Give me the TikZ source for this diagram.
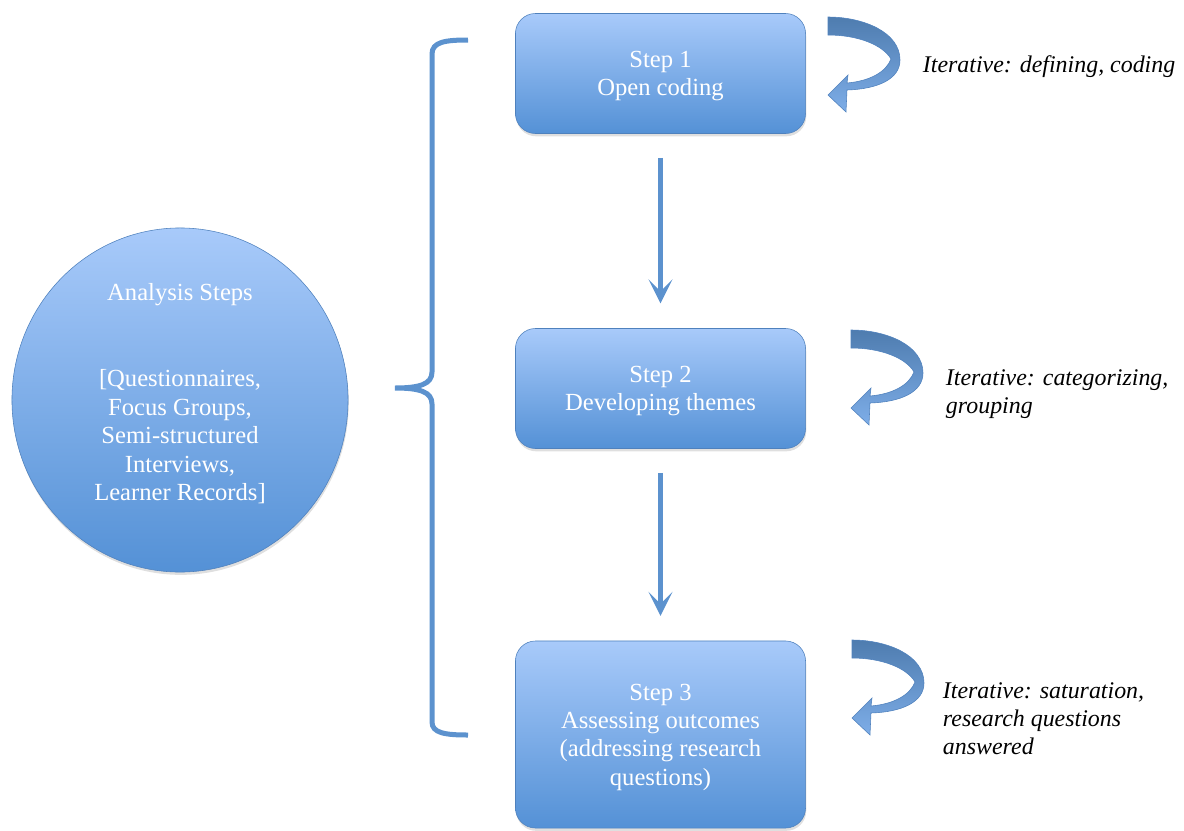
\documentclass[tikz,border=0pt]{standalone}
\usepackage{fontspec}
\setmainfont{Liberation Serif}
\usetikzlibrary{arrows.meta, shadows, shapes.geometric}

\definecolor{boxtop}{RGB}{168,202,250}
\definecolor{boxbottom}{RGB}{84,145,214}
\definecolor{boxline}{RGB}{79,129,189}
\definecolor{linkblue}{RGB}{92,146,206}

\tikzset{
	shade/.style = {drop shadow = {shadow xshift = 0.5pt, shadow yshift = -2pt, opacity = 0.25}},
	stepbox/.style = {draw = boxline, rounded corners = 0.5cm, top color = boxtop, bottom color = boxbottom,
		text = white, align = center, minimum width = 7.25cm, text depth = -1.5pt,
		font = \fontsize{17.5}{20.2}\selectfont, shade},
	sourceoval/.style = {ellipse, draw = boxline, top color = boxtop, bottom color = boxbottom, text = white,
		align = center, minimum width = 8.4cm, minimum height = 8.6cm, inner sep = 0pt, text depth = 11pt,
		font = \fontsize{17.5}{20.3}\selectfont, shade},
	flow/.style = {->, linkblue, line width = 0.125cm, shorten <= 0.6cm, shorten >= 0.62cm},
	loopnote/.style = {anchor = west, align = left, font = \fontsize{17}{20}\selectfont\itshape}
}

\begin{document}
\begin{tikzpicture}[x = 0.025cm, y = -0.025cm, > = {Stealth[length = 0.6cm, width = 0.6cm, inset = 0.3cm]}]

	% Frame
	
	\useasboundingbox (0, 0) rectangle (1184, 830);

	% Data sources
	
	\node [sourceoval] (src) at (180, 400) {Analysis Steps\\[40.6pt]{[}Questionnaires,\\Focus Groups,\\Semi-structured\\Interviews,\\Learner Records]};

	% Bracket
	
	\draw [linkblue, line width = 0.125cm] (468, 40) .. controls (445, 40) and (432, 42) .. (432, 54) -- (432, 372)
		.. controls (432, 384) and (420, 388) .. (395, 388)
		.. controls (420, 388) and (432, 392) .. (432, 404) -- (432, 722)
		.. controls (432, 733) and (445, 735) .. (468, 735);

	% Steps
	
	\node [stepbox, minimum height = 3.0cm] (s1) at (660.5, 73.5) {Step 1\\Open coding};
	\node [stepbox, minimum height = 3.0cm] (s2) at (660.5, 388.5) {Step 2\\Developing themes};
	\node [stepbox, minimum height = 4.675cm] (s3) at (660.5, 734.5) {Step 3\\Assessing outcomes\\(addressing research\\questions)};
	
	\draw [flow] (s1) -- (s2);
	\draw [flow] (s2) -- (s3);

	% Loop arrows
	
	\foreach \px/\py in {828/17, 851/330, 852/640}
	{
		\draw [boxline, thin, top color = linkblue!85!black, bottom color = boxtop!50!boxbottom, shift = {(\px, \py)}]
			(0, 0) .. controls (35, 0) and (72, 15) .. (72, 43) .. controls (72, 62) and (50, 72) .. (19, 73)
			-- (18, 95) -- (0, 78) -- (20, 58) -- (19, 66)
			.. controls (42, 64) and (58, 55) .. (63, 42) .. controls (55, 28) and (30, 18) .. (0, 18) -- cycle;
	}
	
	\node [loopnote] (n1) at (918, 67) {Iterative: defining, coding};
	\node [loopnote] (n2) at (941, 394.5) {Iterative: categorizing,\\grouping};
	\node [loopnote] (n3) at (938, 718.5) {Iterative: saturation,\\research questions\\answered};

\end{tikzpicture}
\end{document}
